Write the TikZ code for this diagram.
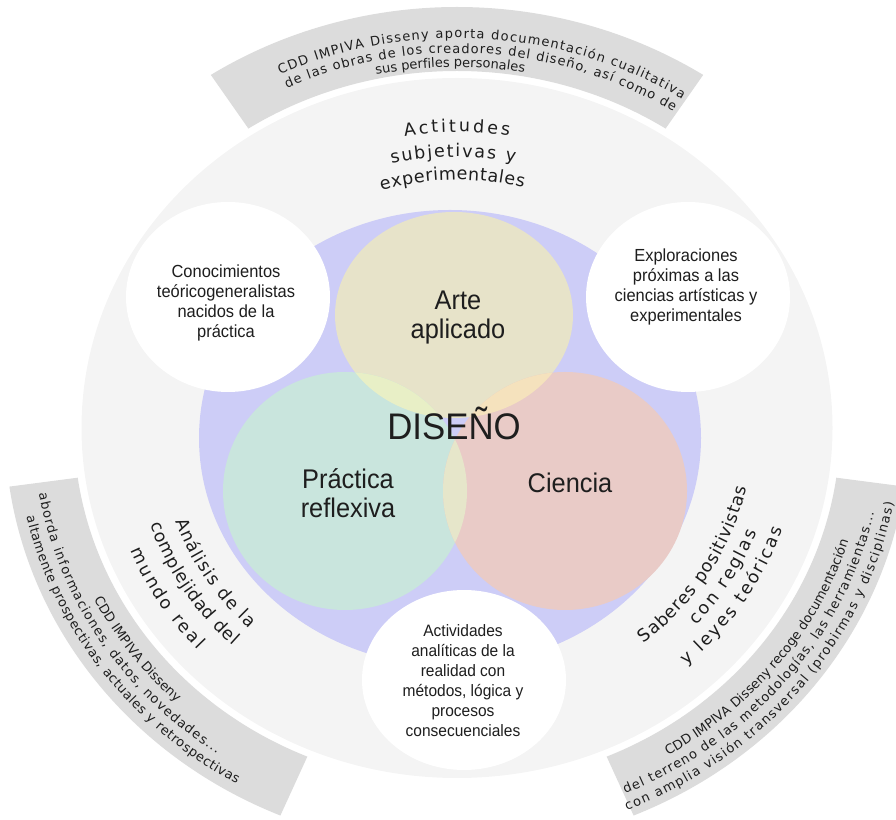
\documentclass[tikz,border=0pt]{standalone}
\usepackage{fontspec}
\usetikzlibrary{calc,decorations.text}
\newfontfamily\arcfont{DejaVu Sans}
\newfontfamily\circfont[FakeStretch=0.94]{Liberation Sans}
\definecolor{bandgray}{HTML}{DCDCDC}
\definecolor{discgray}{HTML}{F4F4F4}
\definecolor{lavender}{HTML}{CDCDF7}
\definecolor{artecol}{HTML}{E7E3C9}
\definecolor{practcol}{HTML}{C9E5DD}
\definecolor{ciencol}{HTML}{E9CBC7}
\definecolor{ovAP}{HTML}{E8EFC6}
\definecolor{ovAC}{HTML}{F5E2BD}
\definecolor{ovPC}{HTML}{E6E6CA}
\definecolor{inktext}{HTML}{1E1E1E}

% one line of text set along an elliptical arc around (C)
% #1 x radius, #2 y radius, #3 start angle, #4 end angle, #5 alignment, #6 size, #7 text
\newcommand{\ringline}[7]{%
  \path[decorate, decoration={text along path, text align={#5}, text color=inktext,
        text={|\arcfont\fontsize{#6}{#6}\selectfont|#7}}]
    ($(C)+(#3:#1 and #2)$) arc[start angle=#3, end angle=#4, x radius=#1, y radius=#2];}

% grey band: sector of the elliptic ring outside the main disc
\newcommand{\bandsector}[2]{%
  \fill[bandgray] ($(C)+(#1:452 and 421)$)
    arc[start angle=#1, end angle=#2, x radius=452, y radius=421]
    -- ($(C)+(#2:383 and 357)$)
    arc[start angle=#2, end angle=#1, x radius=383, y radius=357] -- cycle;}

\begin{document}
\begin{tikzpicture}[x=1pt, y=1pt,
  vennlabel/.style={font=\circfont\fontsize{27}{29}\selectfont, align=center, inner sep=0pt, text=inktext},
  circlabel/.style={font=\circfont\fontsize{17.5}{20}\selectfont, align=center, inner sep=0pt, text=inktext},
  botlabel/.style={font=\circfont\fontsize{16.5}{20}\selectfont, align=center, inner sep=0pt, text=inktext}]
\useasboundingbox (0,0) rectangle (896,819);
\clip (0,0) rectangle (896,819);

\coordinate (C) at (457,391);
\coordinate (B) at (450,381);
\coordinate (Y) at (454,504);
\coordinate (G) at (345,328);
\coordinate (P) at (565,328);
\coordinate (WL) at (228,522);
\coordinate (WR) at (688,522);
\coordinate (WB) at (464,139);

% outer grey bands
\bandsector{57}{123}
\bandsector{188}{247}
\bandsector{293}{352}

% light disc and lavender core
\fill[discgray] (C) ellipse [x radius=375.5, y radius=350];
\fill[lavender] (B) ellipse [x radius=251, y radius=228];

% three overlapping fields
\fill[artecol] (Y) ellipse [x radius=119, y radius=103];
\fill[practcol] (G) ellipse [x radius=122, y radius=119];
\fill[ciencol] (P) ellipse [x radius=122, y radius=119];
\begin{scope}
  \clip (Y) ellipse [x radius=119, y radius=103];
  \fill[ovAP] (G) ellipse [x radius=122, y radius=119];
  \fill[ovAC] (P) ellipse [x radius=122, y radius=119];
\end{scope}
\begin{scope}
  \clip (G) ellipse [x radius=122, y radius=119];
  \fill[ovPC] (P) ellipse [x radius=122, y radius=119];
\end{scope}

% white satellite discs
\fill[white] (WL) ellipse [x radius=102, y radius=95];
\fill[white] (WR) ellipse [x radius=102, y radius=95];
\fill[white] (WB) ellipse [x radius=102, y radius=90];

% labels of the fields
\node[vennlabel, font=\circfont\fontsize{37}{37}\selectfont, anchor=base] (diseno) at (454,379) {DISEÑO};
\node[vennlabel] (arte) at (458,501.5) {Arte\\aplicado};
\node[vennlabel] (practica) at (348,326) {Práctica\\reflexiva};
\node[vennlabel, anchor=base] (ciencia) at (570,326) {Ciencia};

\node[circlabel] (conoc) at (226,516) {Conocimientos\\teóricogeneralistas\\nacidos de la\\práctica};
\node[circlabel] (explor) at (686,532) {Exploraciones\\próximas a las\\ciencias artísticas y\\experimentales};
\node[botlabel] (activ) at (463,138) {Actividades\\analíticas de la\\realidad con\\métodos, lógica y\\procesos\\consecuenciales};

% texts along the top
\ringline{418.5}{390}{115}{57.5}{fit to path}{13}{CDD IMPIVA Disseny aporta documentación cualitativa}
\ringline{402.4}{375}{115}{57.5}{fit to path}{13}{de las obras de los creadores del diseño, así como de}
\ringline{387.4}{361}{105}{77}{center}{13}{sus perfiles personales}
\ringline{317.6}{296}{99.5}{80.5}{fit to path}{17.5}{Actitudes}
\ringline{290.8}{271}{103}{78.5}{fit to path}{17.5}{subjetivas y}
\ringline{266}{248}{106.5}{75.5}{fit to path}{17.5}{experimentales}

% texts along the lower left
\ringline{299}{278.7}{199.5}{226}{fit to path}{17.5}{Análisis de la}
\ringline{324}{302}{198.7}{226.2}{fit to path}{17.5}{complejidad del}
\ringline{352}{328}{202}{222.5}{fit to path}{17.5}{mundo real}
\ringline{407}{379.3}{200}{233}{center}{13}{CDD IMPIVA Disseny}
\ringline{424}{395.2}{189.5}{235.5}{fit to path}{13}{aborda informaciones, datos, novedades...}
\ringline{441}{411}{192.5}{240}{fit to path}{13}{altamente prospectivas, actuales y retrospectivas}

% texts along the lower right
\ringline{297}{276.8}{309}{347.5}{fit to path}{17.5}{Saberes positivistas}
\ringline{320}{298.2}{318.5}{339.5}{fit to path}{17.5}{con reglas}
\ringline{343}{319.7}{312}{341.5}{fit to path}{17.5}{y leyes teóricas}
\ringline{410}{382.1}{296}{348}{center}{13}{CDD IMPIVA Disseny recoge documentación}
\ringline{427}{398}{293.2}{347.6}{fit to path}{13}{del terreno de las metodologías, las herramientas...}
\ringline{444}{413.8}{292.5}{349.5}{fit to path}{13}{con amplia visión transversal (probirmas y disciplinas)}
\end{tikzpicture}
\end{document}
